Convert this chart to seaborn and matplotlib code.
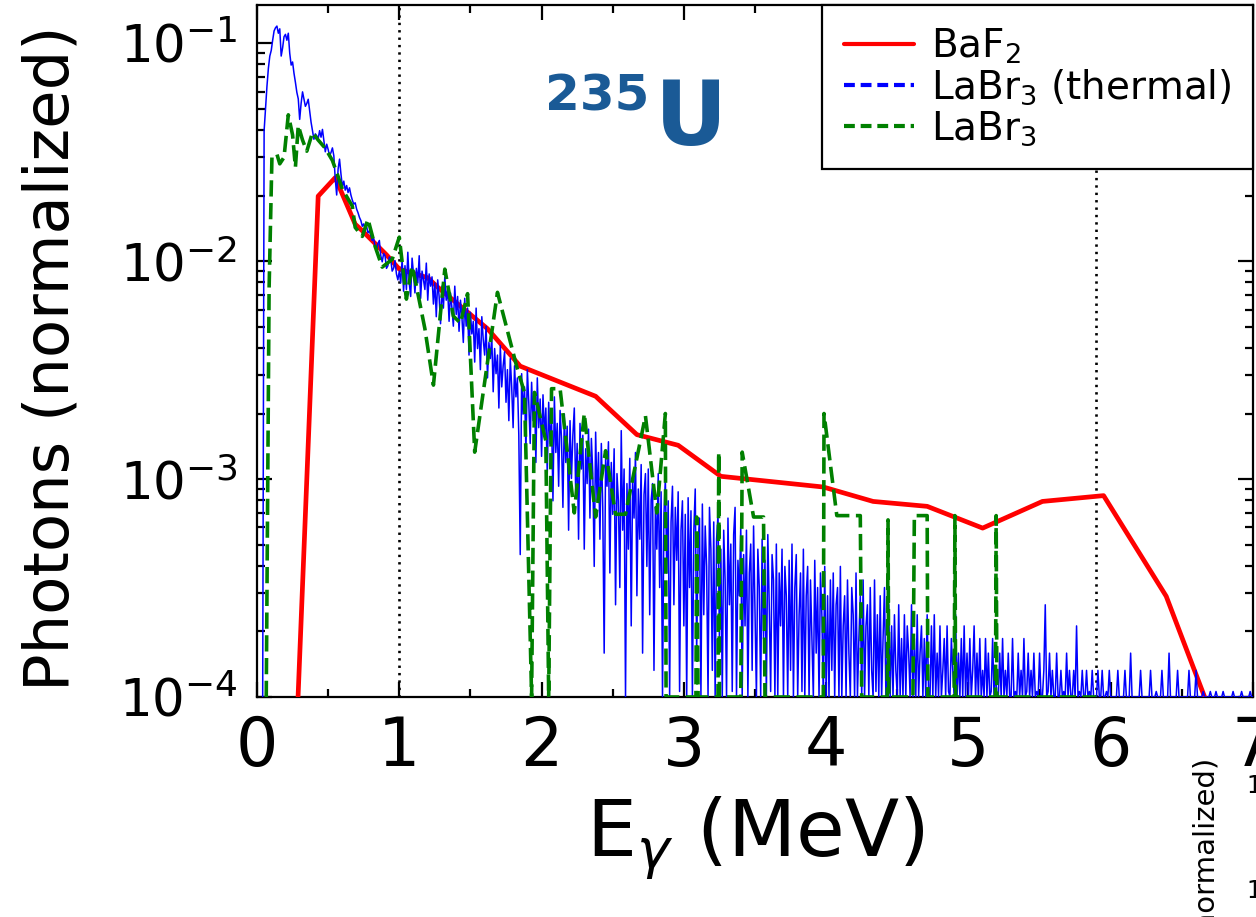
import numpy as np
import pandas as pd
import matplotlib
matplotlib.use("Agg")
import matplotlib.pyplot as plt
from matplotlib.lines import Line2D
from matplotlib.ticker import MultipleLocator, LogLocator, NullFormatter
import seaborn as sns

# ---------------------------------------------------------------- data
# BaF2 spectrum (normalized photons)
baf2_energy = [0.27, 0.43, 0.55, 0.69, 0.74, 0.91, 1.00, 1.20, 1.27, 1.62,
               1.85, 2.38, 2.67, 2.96, 3.26, 3.98, 4.33, 4.71, 5.10, 5.52,
               5.95, 6.39, 6.66, 6.80]
baf2_value = [5e-5, 0.0199, 0.0242, 0.0148, 0.0138, 0.0107, 0.0092, 0.0084, 0.0076, 0.0049,
              0.0033, 0.0024, 0.0016, 0.00143, 0.00103, 0.00092, 0.00079, 0.00075, 0.000596, 0.00079,
              0.00084, 0.00029, 0.0001, 4e-5]

# LaBr3 spectrum (normalized photons)
labr3_energy = [0.065, 0.085, 0.105, 0.14, 0.16, 0.19, 0.22, 0.25, 0.27, 0.29,
                0.32, 0.35, 0.39, 0.43, 0.48, 0.53, 0.57, 0.60, 0.67, 0.69,
                0.74, 0.78, 0.83, 0.88, 0.95, 1.00, 1.05, 1.09, 1.12, 1.18,
                1.24, 1.32, 1.38, 1.43, 1.48, 1.53, 1.69, 1.83, 1.88, 1.93,
                1.95, 2.03, 2.05, 2.07, 2.13, 2.23, 2.30, 2.38, 2.45, 2.52,
                2.59, 2.73, 2.81, 2.87, 2.875, 3.085, 3.09, 3.10, 3.24, 3.245,
                3.25, 3.40, 3.41, 3.49, 3.56, 3.57, 3.98, 3.985, 4.075, 4.24,
                4.25, 4.43, 4.435, 4.44, 4.61, 4.62, 4.71, 4.715, 4.90, 4.905,
                4.91, 5.19, 5.195, 5.20, 5.90]
labr3_value = [0.0, 0.0075, 0.030, 0.031, 0.028, 0.030, 0.047, 0.038, 0.027, 0.042,
               0.036, 0.032, 0.039, 0.036, 0.033, 0.029, 0.0245, 0.0214, 0.0179, 0.0143,
               0.013, 0.0156, 0.0117, 0.0094, 0.0102, 0.0129, 0.0067, 0.0095, 0.0077, 0.0049,
               0.0027, 0.0092, 0.0056, 0.0052, 0.0071, 0.00133, 0.0072, 0.0032, 0.0025, 0.0,
               0.0025, 0.0015, 0.0, 0.0026, 0.0026, 0.0007, 0.0020, 0.00067, 0.00135, 0.00069,
               0.00069, 0.00195, 0.0007, 0.0020, 0.0, 0.0, 0.00067, 0.0, 0.0, 0.00133,
               0.0, 0.0, 0.00133, 0.00067, 0.00067, 0.0, 0.0, 0.0020, 0.00068, 0.00068,
               0.0, 0.0, 0.00065, 0.0, 0.0, 0.00068, 0.00068, 0.0, 0.0, 0.00068,
               0.0, 0.0, 0.00068, 0.0, 0.0]

# LaBr3 thermal-neutron spectrum: raw counts in 10 keV bins from 0.04 MeV
# (each row below holds ten consecutive bins, i.e. 0.1 MeV)
thermal_e_start = 0.04
thermal_e_step = 0.01
thermal_norm = 2.65e-5
thermal_counts = [
    0, 1500, 1900, 2400, 2900, 3300, 3500, 3900, 4300, 4450,          # 0.04
    4530, 4200, 4400, 3300, 3600, 4050, 4150, 3900, 4200, 3400,       # 0.14
    3000, 3100, 2750, 2500, 2250, 2100, 1690, 2000, 2260, 2100,       # 0.24
    1940, 2000, 2090, 1850, 1640, 1500, 1370, 1450, 1420, 1380,       # 0.34
    1500, 1400, 1520, 1350, 1200, 1300, 1230, 1150, 1190, 1250,       # 0.44
    1150, 900, 760, 1000, 1110, 950, 830, 880, 800, 840,              # 0.54
    780, 820, 760, 720, 690, 700, 655, 630, 600, 580,                 # 0.64
    546, 560, 530, 545, 510, 520, 495, 470, 480, 440,                 # 0.74
    420, 455, 470, 400, 375, 410, 400, 350, 360, 395,                 # 0.84
    385, 340, 350, 380, 330, 310, 340, 300, 385, 275,                 # 0.94
    360, 280, 415, 300, 260, 390, 330, 270, 350, 300,                 # 1.04
    400, 255, 340, 310, 280, 370, 250, 330, 290, 320,                 # 1.14
    240, 300, 210, 310, 260, 195, 290, 230, 320, 250,                 # 1.24
    280, 200, 270, 230, 190, 290, 215, 260, 180, 250,                 # 1.34
    210, 160, 255, 190, 230, 140, 220, 175, 200, 130,                 # 1.44
    230, 150, 185, 120, 210, 165, 140, 190, 110, 160,                 # 1.54
    135, 170, 95, 150, 115, 140, 80, 155, 100, 125,                   # 1.64
    145, 85, 120, 70, 135, 100, 65, 125, 90, 110,                     # 1.74
    60, 17, 115, 75, 100, 50, 120, 85, 55, 105,                       # 1.84
    70, 95, 45, 110, 65, 88, 48, 92, 60, 80,                          # 1.94
    40, 85, 55, 72, 30, 90, 50, 68, 35, 78,                           # 2.04
    58, 28, 75, 45, 66, 22, 70, 38, 60, 80,                           # 2.14
    32, 55, 20, 68, 42, 60, 18, 52, 36, 64,                           # 2.24
    25, 58, 40, 15, 62, 30, 50, 20, 55, 28,                           # 2.34
    6, 48, 35, 56, 14, 45, 26, 52, 10, 40,                            # 2.44
    30, 12, 63, 22, 42, 0, 36, 18, 47, 8,                             # 2.54
    38, 25, 50, 11, 34, 20, 44, 6, 32, 40,                            # 2.64
    15, 42, 9, 30, 36, 5, 28, 18, 40, 12,                             # 2.74
    33, 3, 26, 38, 14, 30, 0, 24, 35, 10,                             # 2.84
    28, 16, 33, 4, 22, 30, 8, 26, 2, 31,                              # 2.94
    12, 27, 0, 22, 34, 6, 19, 25, 3, 29,                              # 3.04
    9, 23, 15, 1, 28, 18, 5, 24, 0, 20,                               # 3.14
    26, 7, 18, 2, 22, 13, 0, 25, 10, 19,                              # 3.24
    4, 21, 28, 0, 16, 11, 23, 3, 17, 8,                               # 3.34
    22, 0, 14, 19, 5, 23, 9, 2, 18, 12,                               # 3.44
    1, 20, 7, 16, 0, 21, 10, 4, 17, 13,                               # 3.54
    3, 19, 0, 14, 8, 18, 2, 15, 11, 0,                                # 3.64
    16, 5, 19, 1, 12, 17, 0, 9, 14, 4,                                # 3.74
    18, 0, 11, 15, 2, 13, 7, 0, 16, 6,                                # 3.84
    12, 1, 14, 9, 0, 15, 3, 11, 0, 13,                                # 3.94
    5, 14, 0, 10, 12, 2, 15, 0, 8, 11,                                # 4.04
    1, 13, 6, 0, 12, 9, 3, 14, 0, 7,                                  # 4.14
    11, 2, 13, 0, 8, 10, 1, 12, 5, 0,                                 # 4.24
    13, 4, 9, 0, 11, 2, 7, 12, 0, 6,                                  # 4.34
    10, 1, 8, 0, 9, 5, 0, 10, 3, 7,                                   # 4.44
    0, 9, 2, 8, 6, 0, 10, 1, 7, 3,                                    # 4.54
    9, 0, 6, 8, 1, 7, 0, 9, 4, 2,                                     # 4.64
    8, 0, 9, 3, 6, 0, 8, 2, 5, 7,                                     # 4.74
    1, 8, 4, 0, 7, 5, 0, 9, 2, 6,                                     # 4.84
    0, 7, 3, 8, 1, 6, 0, 7, 2, 5,                                     # 4.94
    8, 0, 6, 3, 7, 1, 5, 0, 7, 2,                                     # 5.04
    6, 0, 4, 7, 1, 5, 3, 0, 6, 2,                                     # 5.14
    7, 1, 5, 0, 6, 3, 0, 7, 2, 4,                                     # 5.24
    0, 6, 2, 5, 0, 7, 1, 4, 6, 0,                                     # 5.34
    5, 2, 6, 0, 4, 1, 6, 3, 0, 5,                                     # 5.44
    10, 1, 4, 6, 0, 5, 2, 0, 6, 3,                                    # 5.54
    0, 5, 1, 4, 0, 6, 2, 5, 0, 3,                                     # 5.64
    5, 1, 8, 0, 4, 2, 5, 0, 3, 5,                                     # 5.74
    1, 4, 0, 5, 2, 0, 3, 5, 1, 0,                                     # 5.84
    5, 2, 0, 4, 1, 5, 0, 2, 3, 0,                                     # 5.94
    2, 5, 0, 1, 3, 0, 5, 2, 0, 1,                                     # 6.04
    6, 0, 2, 1, 3, 0, 1, 5, 0, 2,                                     # 6.14
    0, 3, 1, 0, 5, 2, 0, 1, 4, 0,                                     # 6.24
    2, 0, 5, 1, 0, 3, 0, 6, 1, 0,                                     # 6.34
    2, 1, 0, 5, 0, 2, 1, 0, 3, 0,                                     # 6.44
    1, 5, 0, 2, 0, 1, 5, 0, 2, 1,                                     # 6.54
    0, 4, 1, 0, 2, 0, 4, 1, 0, 2,                                     # 6.64
    4, 0, 1, 3, 0, 4, 0, 2, 1, 0,                                     # 6.74
    2, 0, 4, 1, 0, 2, 0, 1, 4, 0,                                     # 6.84
    1, 0, 2, 0, 4, 0, 1,                                              # 6.94
]

legend_labels = ["BaF$_2$", "LaBr$_3$ (thermal)", "LaBr$_3$"]
x_ticks = [0, 1, 2, 3, 4, 5, 6, 7]
marker_lines = [1.0, 5.9]

# ---------------------------------------------------------------- style
sns.set_theme(style="ticks")
plt.rcParams["font.family"] = ["DejaVu Sans"]
for key in ("text.color", "axes.labelcolor", "xtick.color", "ytick.color",
            "axes.edgecolor"):
    plt.rcParams[key] = "black"
plt.rcParams["axes.linewidth"] = 1.6

Y_MIN, Y_MAX = 1e-4, 0.15
C_RED, C_BLUE, C_GREEN = "#ff0000", "#0000ff", "#008000"

W, H = 1256, 917
fig = plt.figure(figsize=(W / 100, H / 100), dpi=100)
fig.patch.set_facecolor("white")
ax = fig.add_axes([257 / W, 1 - 697 / H, (1253 - 257) / W, (697 - 5) / H])
ax.set_yscale("log")

# spectra; empty bins sit on the lower edge of the plot
baf2 = pd.DataFrame({"E": baf2_energy, "y": baf2_value})
labr3 = pd.DataFrame({"E": labr3_energy, "y": np.clip(labr3_value, Y_MIN, None)})
th_counts = np.asarray(thermal_counts, dtype=float)
thermal = pd.DataFrame({
    "E": thermal_e_start + thermal_e_step * np.arange(len(th_counts)),
    "y": np.clip(th_counts * thermal_norm, Y_MIN, None),
})

for xv in marker_lines:
    ax.axvline(xv, color="black", lw=1.9, linestyle=(0, (0.9, 1.9)), zorder=1)

sns.lineplot(data=baf2, x="E", y="y", ax=ax, color=C_RED, lw=3.4,
             sort=False, estimator=None, zorder=3)
sns.lineplot(data=thermal, x="E", y="y", ax=ax, color=C_BLUE, lw=1.1,
             sort=False, estimator=None, zorder=4)
sns.lineplot(data=labr3, x="E", y="y", ax=ax, color=C_GREEN, lw=2.6,
             linestyle=(0, (4.5, 1.8)), sort=False, estimator=None, zorder=5)

ax.set_xlim(0, 7)
ax.set_ylim(Y_MIN, Y_MAX)
ax.set_xticks(x_ticks)
ax.xaxis.set_minor_locator(MultipleLocator(0.5))
ax.yaxis.set_major_locator(LogLocator(base=10, numticks=10))
ax.yaxis.set_minor_locator(LogLocator(base=10, subs=np.arange(2, 10), numticks=20))
ax.yaxis.set_minor_formatter(NullFormatter())
ax.tick_params(which="both", direction="in", top=True, right=True,
               width=1.6, color="black", labelcolor="black")
ax.tick_params(which="major", length=11)
ax.tick_params(which="minor", length=6)
ax.tick_params(axis="x", which="major", labelsize=48, pad=12)
ax.tick_params(axis="y", which="major", labelsize=37, pad=14)
for sp in ax.spines.values():
    sp.set_linewidth(1.6)
    sp.set_color("black")

ax.set_xlabel("E$_\\gamma$ (MeV)", fontsize=57)
ax.xaxis.set_label_coords(0.5, -0.14)
ax.set_ylabel("Photons (normalized)", fontsize=45)
ax.yaxis.set_label_coords(-0.176, 0.49)

# isotope tag
tag_color = "#1a5a96"
ax.text(0.289, 0.848, "235", transform=ax.transAxes, fontsize=36,
        fontweight="bold", color=tag_color, va="baseline", ha="left")
ax.text(0.3995, 0.798, "U", transform=ax.transAxes, fontsize=64,
        fontweight="bold", color=tag_color, va="baseline", ha="left")

handles = [
    Line2D([], [], color=C_RED, lw=3.0),
    Line2D([], [], color=C_BLUE, lw=3.0, linestyle=(0, (2.6, 1.4))),
    Line2D([], [], color=C_GREEN, lw=3.0, linestyle=(0, (2.6, 1.4))),
]
leg = ax.legend(handles, legend_labels, loc="upper right", fontsize=28,
                frameon=True, fancybox=False, edgecolor="black",
                borderaxespad=0.0, handlelength=1.8, handletextpad=0.45,
                labelspacing=0.05, borderpad=0.55)
leg.get_frame().set_linewidth(1.6)
leg.get_frame().set_alpha(1.0)
leg.set_zorder(10)

# neighbouring panel peeking in at the lower right corner
fig.text(1207 / W, 1 - 758 / H, "Photons (normalized)", rotation=90,
         fontsize=21, ha="center", va="top", color="black")
fig.text(1246 / W, 1 - 793 / H, "10", fontsize=17, ha="left", va="baseline")
fig.text(1246 / W, 1 - 898 / H, "10", fontsize=17, ha="left", va="baseline")

fig.savefig("out.png", dpi=100, facecolor="white")
